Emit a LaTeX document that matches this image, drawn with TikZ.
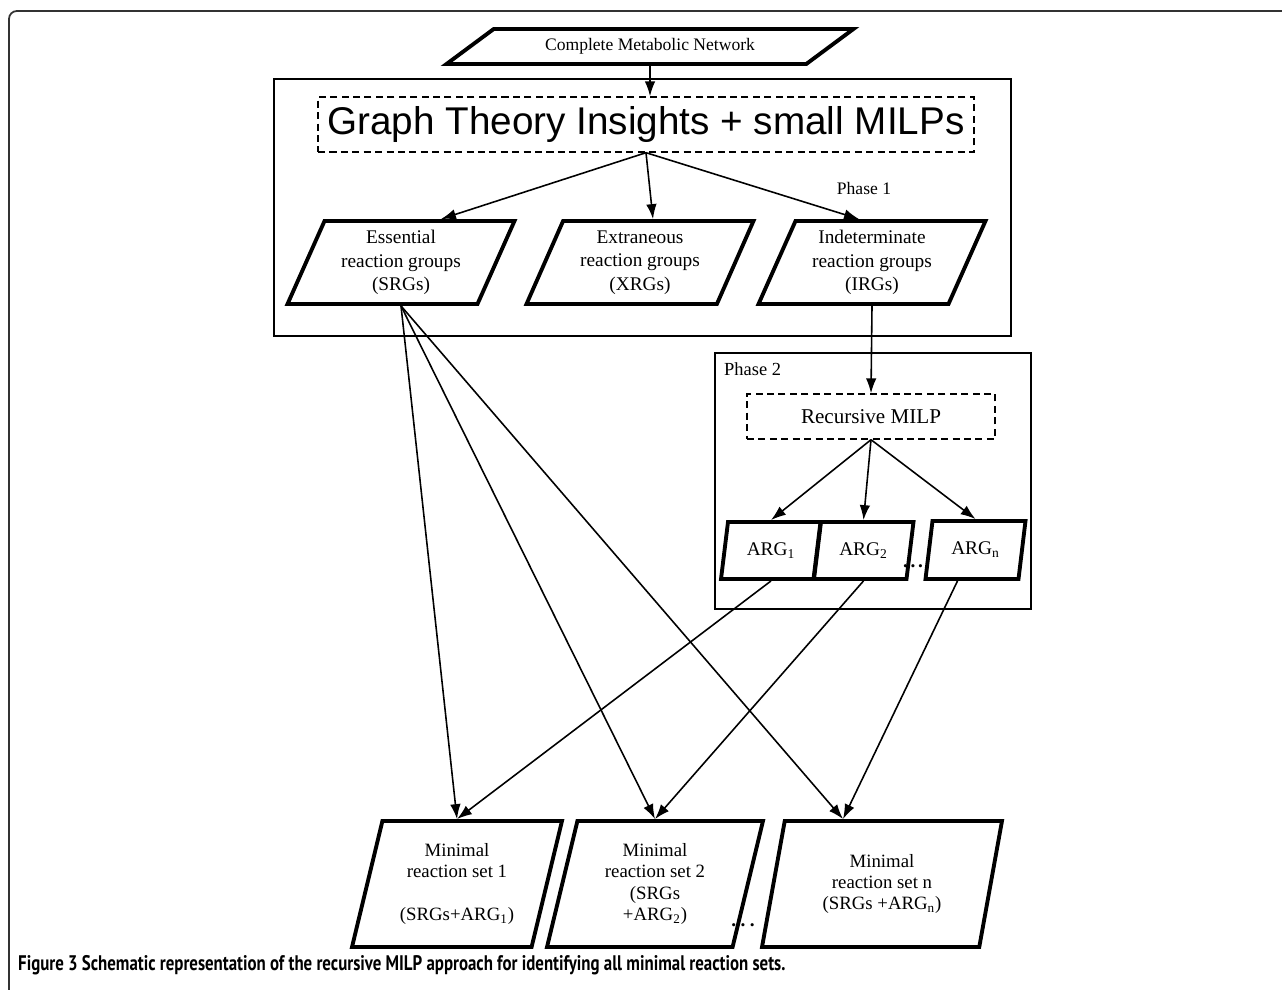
\documentclass[tikz,border=0pt]{standalone}
\usepackage{fontspec}
\setmainfont{Liberation Serif}
\setsansfont{Liberation Sans}
\newfontfamily\capfont[FakeStretch=0.8]{PT Sans}
\usepackage{tikz}
\usetikzlibrary{shapes.geometric}
\usetikzlibrary{arrows.meta}

\begin{document}
\begin{tikzpicture}[x=0.02cm, y=-0.02cm, >={Latex[length=8.5pt,width=6pt]},
  pgram/.style={draw, line width=2.2pt, trapezium, trapezium stretches body,
    align=center, inner sep=1pt, font=\fontsize{11}{13.4}\selectfont},
  dbox/.style={draw, line width=0.8pt, dash pattern=on 4pt off 2.5pt, inner sep=0pt},
  link/.style={->, line width=0.9pt},
  frame/.style={line width=0.7pt},
  etc/.style={inner sep=0pt, anchor=base, font=\bfseries\fontsize{11}{12}\selectfont}]
\useasboundingbox (0,0) rectangle (1282,990);
\draw[line width=1pt, black!80, rounded corners=4.5pt] (9,990) -- (9,11) -- (1282,11);

%Phase 1
\draw[frame] (274,79) rectangle (1011,336);
\node[pgram, trapezium left angle=22.4, trapezium right angle=157.6,
  minimum width=8.14cm, minimum height=0.7cm, font=\fontsize{10}{12}\selectfont]
  (cmn) at (650,46.5) {Complete Metabolic Network};
\node[dbox, minimum width=13.12cm, minimum height=1.1cm,
  font=\sffamily\fontsize{22}{26}\selectfont] (gti) at (646,124.5)
  {Graph Theory Insights + small MILPs};
\node[font=\fontsize{10}{12}\selectfont] (ph1) at (864,188) {Phase 1};

\node[pgram, trapezium left angle=61.5, trapezium right angle=118.5,
  minimum width=4.54cm, minimum height=1.66cm] (srg) at (401,262.5)
  {Essential\\reaction groups\\(SRGs)};
\node[pgram, trapezium left angle=61.5, trapezium right angle=118.5,
  minimum width=4.54cm, minimum height=1.66cm] (xrg) at (640,262.5)
  {Extraneous\\reaction groups\\(XRGs)};
\node[pgram, trapezium left angle=61.5, trapezium right angle=118.5,
  minimum width=4.54cm, minimum height=1.66cm] (irg) at (872,262.5)
  {Indeterminate\\reaction groups\\(IRGs)};

\draw[link] (cmn.south) -- (cmn.south |- gti.north);
\draw[link] (gti.south) -- ([xshift=0.8cm]srg.north);
\draw[link] (gti.south) -- ([xshift=0.26cm]xrg.north);
\draw[link] (gti.south) -- ([xshift=-0.26cm]irg.north);

%Phase 2
\draw[frame] (715,353) rectangle (1031,609);
\node[anchor=west, font=\fontsize{10.5}{12}\selectfont] (ph2) at (718,369) {Phase 2};
\node[dbox, minimum width=4.96cm, minimum height=0.9cm,
  font=\fontsize{12}{14}\selectfont] (rmilp) at (871,416.5) {Recursive MILP};

\node[pgram, trapezium left angle=70, trapezium right angle=110,
  minimum width=2cm, minimum height=1.14cm] (arg1) at (771,550.5) {ARG\textsubscript{1}};
\node[pgram, trapezium left angle=70, trapezium right angle=110,
  minimum width=2cm, minimum height=1.14cm] (arg2) at (863.5,550.5) {ARG\textsubscript{2}};
\node[pgram, trapezium left angle=70, trapezium right angle=110,
  minimum width=2cm, minimum height=1.16cm] (argn) at (975.5,550) {ARG\textsubscript{n}};
\node[etc] (dots1) at (913,567) {.\hspace{1.5pt}.\hspace{1.5pt}.};

\draw[link] (irg.south) -- (rmilp.north);
\foreach \a in {arg1,arg2,argn}
  \draw[link] (rmilp.south) -- (\a.north);

%Minimal reaction sets
\node[pgram, trapezium left angle=70.3, trapezium right angle=109.7,
  minimum width=4.2cm, minimum height=2.52cm, font=\fontsize{10.7}{12.2}\selectfont]
  (ms1) at (457,884) {Minimal\\reaction set 1\\[12.2pt](SRGs+ARG\textsubscript{1})};
\node[pgram, trapezium left angle=70.3, trapezium right angle=109.7,
  minimum width=4.32cm, minimum height=2.52cm, font=\fontsize{10.7}{12.2}\selectfont]
  (ms2) at (655,884) {Minimal\\reaction set 2\\(SRGs\\+ARG\textsubscript{2})};
\node[pgram, trapezium left angle=70.3, trapezium right angle=109.7,
  minimum width=4.8cm, minimum height=2.52cm, font=\fontsize{10.7}{12.2}\selectfont]
  (ms3) at (882,884) {Minimal\\reaction set n\\(SRGs +ARG\textsubscript{n})};
\node[etc] (dots2) at (743,926) {.\hspace{2.5pt}.\hspace{2.5pt}.};

\coordinate (in3) at ([xshift=-0.78cm]ms3.north);
\draw[link] (srg.south) -- (ms1.north);
\draw[link] (srg.south) -- (ms2.north);
\draw[link] (srg.south) -- (in3);
\draw[link] (arg1.south) -- (ms1.north);
\draw[link] (arg2.south) -- (ms2.north);
\draw[link] ([xshift=-0.36cm]argn.south) -- (in3);

\node[anchor=base west, font=\capfont\bfseries\fontsize{12}{14}\selectfont] (cap) at (12,970)
  {Figure 3 Schematic representation of the recursive MILP approach for identifying all minimal reaction sets.};
\end{tikzpicture}
\end{document}
